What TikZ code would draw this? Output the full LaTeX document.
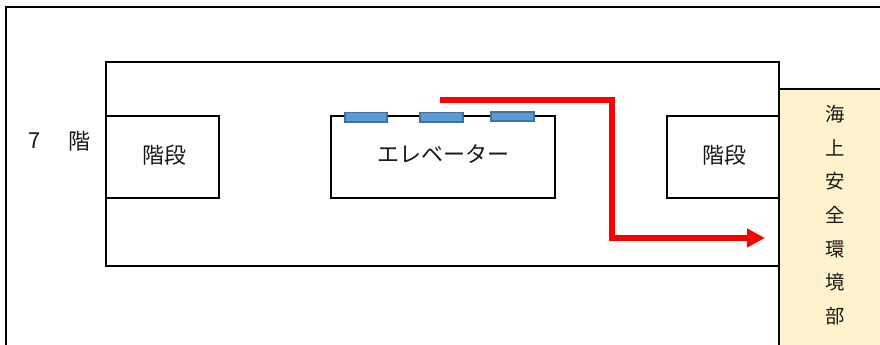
\documentclass[tikz,border=0pt]{standalone}
\usepackage{fontspec}
\setmainfont{Noto Sans CJK JP}[BoldFont={Noto Sans CJK JP}]
\usetikzlibrary{arrows.meta}
\definecolor{doorfill}{HTML}{5B9BD5}
\definecolor{doorline}{HTML}{41719C}
\definecolor{office}{HTML}{FFF2CC}
\tikzset{
  x=0.75pt,y=-0.75pt,
  wall/.style={draw=black,line width=1.7pt,line join=miter},
  door/.style={draw=doorline,fill=doorfill,line width=1pt},
  lab/.style={font=\fontsize{16.5}{18}\selectfont,text=black!90,inner sep=0pt},
  vlab/.style={font=\fontsize{14.5}{16}\selectfont,text=black!90,inner sep=0pt},
  route/.style={draw=red,line width=4.5pt,line join=miter,-{Triangle[length=13.5pt,width=13.5pt]}}
}
\begin{document}
\begin{tikzpicture}
\useasboundingbox (0,0) rectangle (880,345);
\fill[white] (0,0) rectangle (880,345);
\draw[wall] (6,345) -- (6,7) -- (880,7);
\draw[wall] (106,62) rectangle (779,266);
\fill[office] (779,89) rectangle (880,345);
\draw[wall] (880,89) -- (779,89) -- (779,345);
\draw[wall] (106,116) rectangle (219,198);
\draw[wall] (331,116) rectangle (555,198);
\draw[wall] (779,116) -- (667,116) -- (667,198) -- (779,198);
\draw[door] (345,112.5) rectangle (387,122);
\draw[door] (420,112.5) rectangle (463,122);
\draw[door] (491,112) rectangle (534,121);
\coordinate (rs) at (440,100);
\coordinate (rb) at (611.5,100);
\coordinate (rc) at (611.5,238);
\coordinate (re) at (765,238);
\draw[route] (rs) -- (rb) -- (rc) -- (re);
\node[lab] (floor7) at (35,141) {7};
\node[lab] (floorj) at (79.5,141) {階};
\node[lab] (st1) at (164,155) {階段};
\node[lab] (ev) at (443,154) {エレベーター};
\node[lab] (st2) at (724,155) {階段};
\node[vlab] (o1) at (835,114) {海};
\node[vlab] (o2) at (835,148) {上};
\node[vlab] (o3) at (835,181) {安};
\node[vlab] (o4) at (835,215) {全};
\node[vlab] (o5) at (835,249) {環};
\node[vlab] (o6) at (835,282) {境};
\node[vlab] (o7) at (835,316) {部};
\end{tikzpicture}
\end{document}
